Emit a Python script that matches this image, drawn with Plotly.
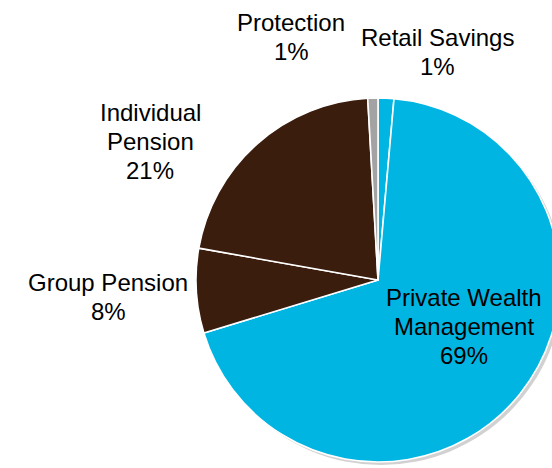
import plotly.graph_objects as go

# ---- data ----
segments = ["Retail Savings", "Private Wealth Management", "Group Pension",
            "Individual Pension", "Protection"]
shares = [1.4, 68.9, 7.5, 21.3, 0.9]
colors = ["#00B5E2", "#00B5E2", "#3B1D0E", "#3B1D0E", "#A3A3A3"]

# label lines and their positions (pixels) for each segment
label_lines = {
    "Retail Savings": ["Retail Savings"],
    "Private Wealth Management": ["Private Wealth", "Management"],
    "Group Pension": ["Group Pension"],
    "Individual Pension": ["Individual", "Pension"],
    "Protection": ["Protection"],
}
label_pos = {  # (center x, first baseline y, line step)
    "Retail Savings": (437, 46, 28.5),
    "Private Wealth Management": (464, 306, 29),
    "Group Pension": (108, 291, 29),
    "Individual Pension": (150, 121, 29),
    "Protection": (291, 31, 28.5),
}

W, H = 572, 468
cx, cy, r = 378, 280, 182
FS = 24

fig = go.Figure()

# soft drop shadow behind the pie
sx, sy = 3, 3
fig.add_trace(go.Pie(
    values=[sum(shares)], labels=["shadow"], sort=False,
    marker=dict(colors=["rgba(90,90,90,0.28)"], line=dict(width=0)),
    textinfo="none", hoverinfo="skip", showlegend=False,
    domain=dict(x=[(cx + sx - r) / W, (cx + sx + r) / W],
                y=[1 - (cy + sy + r) / H, 1 - (cy + sy - r) / H]),
))

fig.add_trace(go.Pie(
    labels=segments, values=shares, sort=False, direction="clockwise",
    rotation=0,
    marker=dict(colors=colors, line=dict(color="white", width=1.6)),
    textinfo="none", showlegend=False,
    domain=dict(x=[(cx - r) / W, (cx + r) / W],
                y=[1 - (cy + r) / H, 1 - (cy - r) / H]),
))

for name, val in zip(segments, shares):
    lines = label_lines[name] + [f"{int(val + 0.5)}%"]
    x0, b0, step = label_pos[name]
    for i, t in enumerate(lines):
        base = b0 + i * step
        fig.add_annotation(
            text=t, x=x0 / W, y=1 - (base - 0.35 * FS) / H,
            xref="paper", yref="paper", xanchor="center", yanchor="middle",
            showarrow=False,
            font=dict(family="Liberation Sans, Arial, sans-serif", size=FS,
                      color="#000000"),
        )

fig.update_layout(
    width=W, height=H, margin=dict(l=0, r=0, t=0, b=0),
    paper_bgcolor="white", plot_bgcolor="white",
)

fig.write_html("out.html",
               config={"displayModeBar": False},
               post_script="document.body.style.margin='0';"
                           "document.body.style.overflow='hidden';"
                           "document.documentElement.style.overflow='hidden';")
